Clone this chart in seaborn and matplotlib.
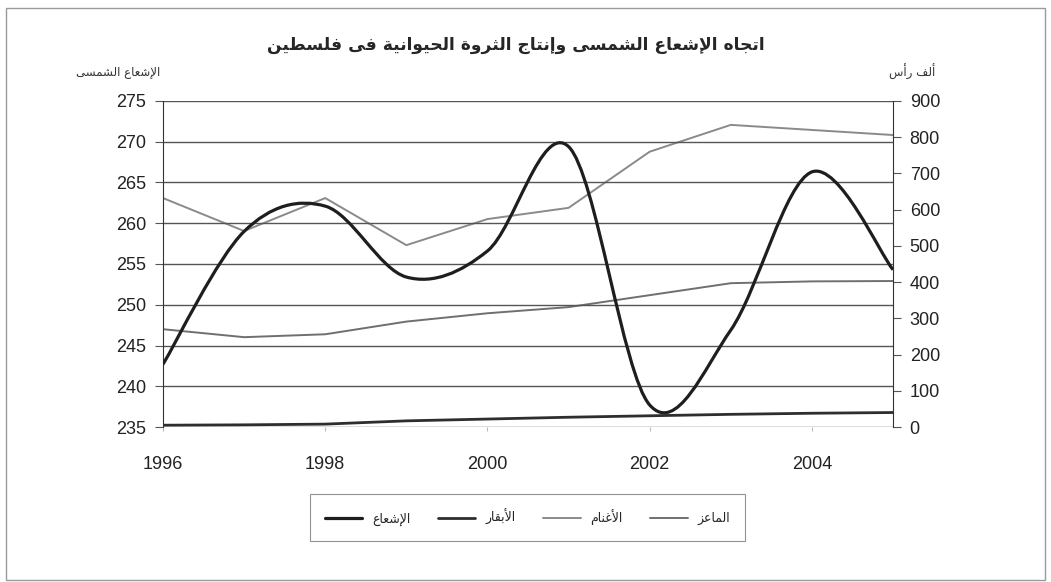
import numpy as np
import pandas as pd
import matplotlib.pyplot as plt
from matplotlib.path import Path
from matplotlib.patches import PathPatch, Rectangle
from matplotlib.lines import Line2D
import seaborn as sns

# data
years = [1996, 1997, 1998, 1999, 2000, 2001, 2002, 2003, 2004, 2005]
radiation = [242.7, 259.0, 262.1, 253.4, 256.6, 269.4, 237.7, 246.9, 266.3, 254.3]  # left axis
sheep = [632, 541, 632, 502, 574, 605, 760, 834, 820, 806]   # thousand head
goats = [270, 248, 256, 291, 314, 331, 364, 397, 402, 403]
cattle = [5, 6, 8, 17, 22, 27, 31, 35, 38, 40]

title = "اتجاه الإشعاع الشمسى وإنتاج الثروة الحيوانية فى فلسطين"
left_label = "الإشعاع الشمسى"
right_label = "ألف رأس"
names = ["الإشعاع", "الأبقار", "الأغنام", "الماعز"]

# minimal arabic shaping (matplotlib draws glyphs left to right, unjoined)
FORMS = {
    'ا': (0xFE8D, 2), 'أ': (0xFE83, 2), 'إ': (0xFE87, 2), 'ب': (0xFE8F, 4),
    'ة': (0xFE93, 2), 'ت': (0xFE95, 4), 'ث': (0xFE99, 4), 'ج': (0xFE9D, 4),
    'ح': (0xFEA1, 4), 'ر': (0xFEAD, 2), 'ز': (0xFEAF, 2), 'س': (0xFEB1, 4),
    'ش': (0xFEB5, 4), 'ط': (0xFEC1, 4), 'ع': (0xFEC9, 4), 'غ': (0xFECD, 4),
    'ف': (0xFED1, 4), 'ق': (0xFED5, 4), 'ل': (0xFEDD, 4), 'م': (0xFEE1, 4),
    'ن': (0xFEE5, 4), 'ه': (0xFEE9, 4), 'و': (0xFEED, 2), 'ى': (0xFEEF, 2),
    'ي': (0xFEF1, 4),
}
LAM_ALEF = {'ا': 0xFEFB, 'أ': 0xFEF7, 'إ': 0xFEF9}


def shape(text):
    toks = []
    i = 0
    while i < len(text):
        c = text[i]
        nxt = text[i + 1:i + 2]
        if c == 'ل' and nxt in LAM_ALEF:
            toks.append((LAM_ALEF[nxt], 2))
            i += 2
            continue
        toks.append(FORMS.get(c, c))
        i += 1
    out = []
    for k, t in enumerate(toks):
        if isinstance(t, str):
            out.append(t)
            continue
        base, n = t
        prev = toks[k - 1] if k > 0 else None
        nx = toks[k + 1] if k + 1 < len(toks) else None
        jp = isinstance(prev, tuple) and prev[1] == 4
        jn = n == 4 and isinstance(nx, tuple)
        off = 3 if (jp and jn) else 1 if jp else 2 if jn else 0
        out.append(chr(base + off))
    return ''.join(reversed(out))


sns.set_style("white")
plt.rcParams['font.family'] = ['Liberation Sans', 'DejaVu Sans']

fig = plt.figure(figsize=(10.51, 5.82), dpi=100)
ax = fig.add_axes([0.1551, 0.2663, 0.6946, 0.5602])
ax2 = ax.twinx()

df = pd.DataFrame({"year": years, "sheep": sheep, "goats": goats, "cattle": cattle})

# livestock on the right axis
sns.lineplot(data=df, x="year", y="sheep", ax=ax2, color="#8a8a8a", lw=1.4)
sns.lineplot(data=df, x="year", y="goats", ax=ax2, color="#6f6f6f", lw=1.4)
sns.lineplot(data=df, x="year", y="cattle", ax=ax2, color="#2e2e2e", lw=2.0)

# radiation: smoothed (excel style) curve through the points, left axis
pts = np.column_stack([years, radiation]).astype(float)
ext = np.vstack([pts[0], pts, pts[-1]])
verts = [tuple(pts[0])]
codes = [Path.MOVETO]
for i in range(len(pts) - 1):
    p0, p1, p2, p3 = ext[i], ext[i + 1], ext[i + 2], ext[i + 3]
    c1 = p1 + (p2 - p0) / 6
    c2 = p2 - (p3 - p1) / 6
    verts += [tuple(c1), tuple(c2), tuple(p2)]
    codes += [Path.CURVE4] * 3
ax.add_patch(PathPatch(Path(verts, codes), fill=False, ec="#1e1e1e", lw=2.3, zorder=5))
ax.set_zorder(ax2.get_zorder() + 1)
ax.patch.set_visible(False)

ax.set_xlim(1996, 2005)
ax.set_ylim(235, 275)
ax.set_yticks(np.arange(235, 276, 5))
ax2.set_ylim(0, 900)
ax2.set_yticks(np.arange(0, 901, 100))
ax.set_xticks([1996, 1998, 2000, 2002, 2004])
ax.set_xticklabels(["1996", "1998", "2000", "2002", "2004"])

ax.grid(axis="y", color="#555555", lw=1.0)
ax.grid(axis="x", visible=False)
ax2.grid(False)
for a in (ax, ax2):
    for s in a.spines.values():
        s.set_visible(False)
    a.set_xlabel("")
    a.set_ylabel("")
ax.spines["left"].set_visible(True)
ax.spines["left"].set_color("#333333")
ax2.spines["right"].set_visible(True)
ax2.spines["right"].set_color("#333333")

ax.tick_params(axis="y", left=True, length=6, width=0.8, color="#555555",
               labelsize=13, pad=6, labelcolor="#222222")
ax.tick_params(axis="x", bottom=True, length=3, color="#bbbbbb",
               labelsize=13, pad=18, labelcolor="#222222")
ax2.tick_params(axis="y", right=True, length=6, width=0.8, color="#555555",
                labelsize=13, pad=6, labelcolor="#222222")

fig.text(0.491, 0.922, shape(title), ha="center", va="center",
         fontsize=12.3, fontweight="bold", family="DejaVu Sans")
fig.text(0.112, 0.876, shape(left_label), ha="center", va="center",
         fontsize=8.5, family="DejaVu Sans", color="#333333")
fig.text(0.868, 0.876, shape(right_label), ha="center", va="center",
         fontsize=8.5, family="DejaVu Sans", color="#333333")

handles = [
    Line2D([], [], color="#1e1e1e", lw=2.3),
    Line2D([], [], color="#2e2e2e", lw=2.0),
    Line2D([], [], color="#8a8a8a", lw=1.4),
    Line2D([], [], color="#6f6f6f", lw=1.4),
]
leg = fig.legend(handles, [shape(n) for n in names], loc="center",
                 bbox_to_anchor=(0.502, 0.111), ncol=4, frameon=True,
                 fancybox=False, edgecolor="#777777",
                 handlelength=3.0, columnspacing=2.2, borderpad=1.2,
                 prop={"family": "DejaVu Sans", "size": 9})
leg.get_frame().set_linewidth(0.8)

# outer chart border
fig.patches.append(Rectangle((0.006, 0.004), 0.988, 0.982, transform=fig.transFigure,
                             fill=False, ec="#9a9a9a", lw=1.0))

fig.savefig("out.png", dpi=100)
